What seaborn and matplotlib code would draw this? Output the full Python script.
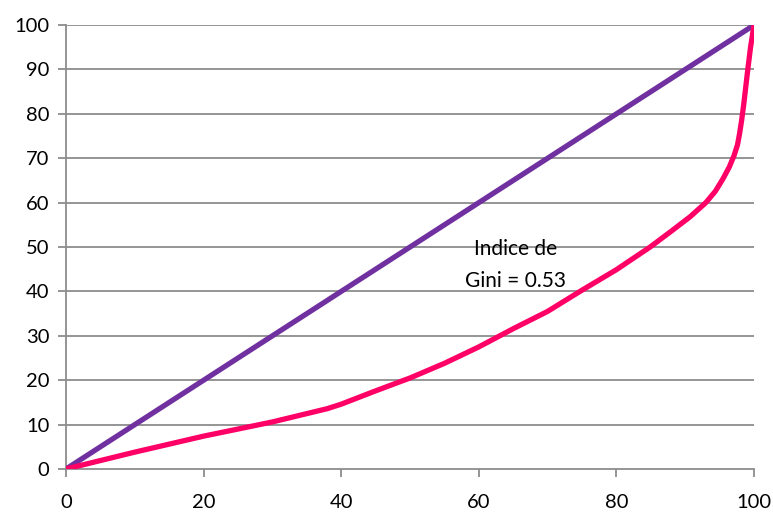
import matplotlib
matplotlib.use("Agg")
import matplotlib.pyplot as plt
import seaborn as sns
import pandas as pd

# Lorenz curve points (population %, income %)
pop_pct = [0, 10, 20, 30, 38, 40, 45, 50, 55, 60, 65, 70, 74.7, 80, 84.9, 88, 90.7,
           93, 94.4, 95.5, 96.4, 97.1, 97.6, 97.9, 98.2, 98.5, 98.8, 99.1, 99.5, 100]
inc_pct = [0, 3.8, 7.4, 10.6, 13.6, 14.6, 17.6, 20.5, 23.8, 27.5, 31.6, 35.5, 40, 44.9, 50, 53.6, 56.8,
           60, 62.6, 65.4, 68, 70.6, 73, 75.5, 78.5, 82, 86, 90, 95, 100]
equality = [0, 100]
gini_label = "Indice de\nGini = 0.53"

sns.set_theme(style="white")
plt.rcParams['font.family'] = ['Lato', 'DejaVu Sans']

fig, ax = plt.subplots(figsize=(7.73, 5.12), dpi=100)
fig.subplots_adjust(left=0.0854, right=0.9754, top=0.951, bottom=0.084)

grid_col = "#8c8c8c"
for yv in range(10, 101, 10):
    ax.axhline(yv, color=grid_col, lw=1.3, zorder=0)

sns.lineplot(x=equality, y=equality, ax=ax, color="#7030A0", lw=3.8, zorder=3)
df = pd.DataFrame({"pop": pop_pct, "inc": inc_pct})
sns.lineplot(data=df, x="pop", y="inc", ax=ax, color="#FF0066", lw=3.8, sort=False, zorder=3)

ax.text(65.3, 46.0, gini_label, ha="center", va="center", fontsize=15, linespacing=1.75, color="black")

ax.set_xlim(0, 100)
ax.set_ylim(0, 100)
ax.set_xticks(range(0, 101, 20))
ax.set_yticks(range(0, 101, 10))
ax.set_xlabel("")
ax.set_ylabel("")
for s in ["top", "right"]:
    ax.spines[s].set_visible(False)
for s in ["left", "bottom"]:
    ax.spines[s].set_color(grid_col)
    ax.spines[s].set_linewidth(1.3)
ax.tick_params(axis="both", direction="out", length=6, width=1.3, color=grid_col,
               labelsize=14.5, labelcolor="black")
ax.tick_params(axis="x", pad=12, bottom=True)
ax.tick_params(axis="y", pad=6, left=True)

fig.savefig("out.png", dpi=100)
